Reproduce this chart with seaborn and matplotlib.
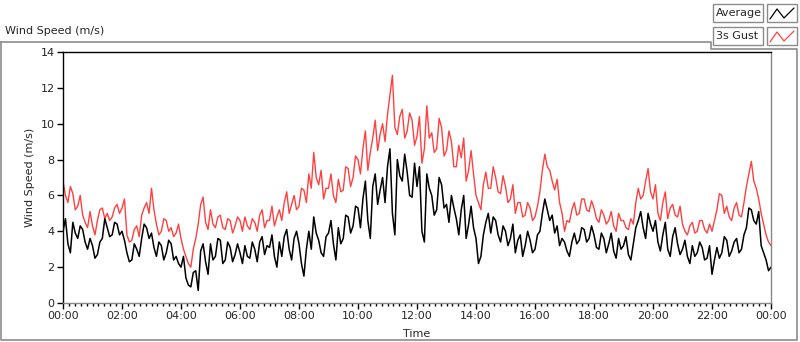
import numpy as np
import pandas as pd
import seaborn as sns
import matplotlib.pyplot as plt
from matplotlib.lines import Line2D
from matplotlib.patches import Rectangle

# values, one every 5 minutes from 00:00 to 24:00
average = [4.0, 4.7, 3.3, 2.8, 4.5, 3.9, 3.6, 4.3, 4.1, 3.4, 3.0, 3.6,
           3.2, 2.5, 2.7, 3.4, 3.6, 4.7, 4.2, 3.7, 3.8, 4.5, 4.4, 3.8,
           4.0, 3.5, 2.8, 2.3, 2.4, 3.3, 3.0, 2.6, 3.6, 4.4, 4.2, 3.6,
           3.9, 3.1, 2.6, 3.4, 3.2, 2.4, 2.8, 3.5, 3.3, 2.4, 2.6, 2.2,
           2.0, 2.6, 1.4, 1.0, 0.9, 1.7, 1.8, 0.7, 2.9, 3.3, 2.3, 1.6,
           3.3, 2.4, 2.6, 3.6, 3.5, 2.2, 2.4, 3.4, 3.1, 2.3, 2.7, 3.3,
           2.8, 2.2, 3.2, 2.6, 2.5, 3.4, 3.0, 2.3, 3.4, 3.7, 2.7, 3.2,
           3.1, 3.8, 2.6, 2.0, 3.4, 2.6, 3.7, 4.1, 3.0, 2.4, 3.6, 4.0,
           3.3, 2.2, 1.5, 3.0, 4.0, 3.0, 4.8, 3.9, 3.5, 2.8, 2.6, 3.7,
           3.9, 4.6, 3.3, 2.4, 4.2, 3.3, 3.6, 4.9, 4.8, 3.9, 4.3, 5.4,
           5.3, 4.2, 5.8, 6.8, 4.6, 3.6, 6.5, 7.2, 5.5, 6.3, 7.0, 5.6,
           7.6, 8.6, 5.0, 3.8, 8.0, 7.1, 6.8, 8.3, 7.3, 6.0, 5.9, 7.8,
           6.5, 7.6, 4.0, 3.4, 7.2, 6.4, 6.0, 4.9, 5.2, 7.0, 6.6, 5.3,
           5.5, 4.5, 6.0, 5.3, 4.7, 3.8, 5.2, 6.0, 3.6, 4.4, 5.4, 4.2,
           3.6, 2.2, 2.6, 3.8, 4.5, 5.0, 3.9, 4.8, 4.6, 3.8, 3.4, 4.3,
           4.0, 3.2, 3.6, 4.4, 2.8, 3.5, 3.8, 2.6, 3.2, 4.0, 3.5, 2.8,
           3.0, 3.8, 4.0, 5.0, 5.8, 5.2, 4.6, 4.9, 3.9, 4.3, 3.2, 3.6,
           3.4, 2.9, 2.6, 3.4, 3.9, 3.3, 3.5, 4.2, 4.1, 3.4, 3.6, 4.3,
           3.8, 3.1, 3.0, 3.9, 3.6, 2.8, 3.3, 3.9, 2.9, 2.5, 3.6, 3.0,
           3.2, 3.7, 2.7, 2.4, 3.3, 4.2, 4.6, 5.1, 4.2, 3.6, 5.0, 4.4,
           4.0, 4.6, 3.4, 2.9, 3.8, 4.5, 3.0, 2.6, 3.7, 4.2, 3.3, 2.7,
           3.0, 3.5, 2.6, 2.2, 3.2, 2.6, 2.8, 3.4, 3.1, 2.4, 2.5, 3.2,
           1.6, 2.4, 3.1, 2.5, 2.8, 3.7, 3.5, 2.6, 2.9, 3.4, 3.6, 2.8,
           3.0, 3.8, 4.2, 5.3, 5.2, 4.6, 4.4, 5.1, 3.2, 2.8, 2.4, 1.8,
           2.0]
gust = [6.8, 6.0, 5.6, 6.5, 6.1, 5.2, 5.4, 6.0, 4.9, 4.5, 4.2, 5.1,
        4.3, 3.8, 4.6, 5.2, 5.3, 4.7, 5.0, 4.6, 4.8, 5.3, 5.5, 5.0,
        5.3, 5.8, 3.8, 3.4, 3.5, 4.1, 4.3, 3.7, 4.9, 5.3, 5.6, 5.0,
        6.4, 5.2, 4.4, 3.8, 4.0, 4.7, 4.6, 4.0, 4.2, 3.7, 3.9, 4.4,
        3.6, 3.0, 2.6, 2.2, 2.0, 3.0, 3.6, 4.4, 5.5, 5.9, 4.5, 4.1,
        5.2, 4.4, 4.2, 4.8, 4.9, 4.2, 4.1, 4.7, 4.6, 3.9, 4.3, 4.8,
        4.6, 4.0, 4.8, 4.3, 4.1, 4.7, 4.5, 4.0, 4.9, 5.2, 4.2, 4.6,
        4.6, 5.4, 4.3, 4.8, 5.2, 4.6, 5.6, 6.2, 5.0, 5.5, 6.0, 5.2,
        5.4, 6.4, 6.3, 5.6, 7.2, 6.4, 8.4, 7.0, 6.6, 7.4, 5.8, 6.4,
        6.4, 7.2, 6.0, 5.6, 6.9, 6.2, 6.3, 7.6, 7.5, 6.5, 7.0, 8.2,
        8.0, 7.2, 8.6, 9.6, 7.4, 8.4, 9.2, 10.2, 8.5, 9.4, 10.0, 9.0,
        10.5, 11.6, 12.7, 9.8, 9.4, 10.4, 10.8, 9.2, 9.6, 10.6, 10.2, 8.8,
        9.3, 10.4, 7.8, 8.6, 11.0, 9.2, 9.5, 8.4, 8.6, 10.3, 9.8, 8.2,
        8.5, 9.6, 9.0, 7.6, 7.6, 8.8, 8.1, 9.2, 6.8, 7.4, 8.5, 7.2,
        6.0, 5.6, 5.2, 6.6, 7.3, 6.4, 6.4, 7.6, 7.0, 6.2, 6.1, 7.1,
        6.5, 5.6, 5.8, 6.6, 5.0, 5.6, 5.6, 4.8, 4.9, 5.6, 5.3, 4.6,
        4.8, 5.4, 6.2, 7.4, 8.3, 7.6, 7.4, 6.8, 6.3, 6.9, 5.6, 5.0,
        4.0, 4.6, 4.5, 5.2, 5.6, 4.9, 5.0, 5.8, 5.8, 5.2, 5.1, 5.7,
        5.3, 4.7, 4.5, 5.2, 4.9, 4.4, 4.6, 5.1, 4.3, 4.0, 5.0, 4.6,
        4.6, 4.2, 4.1, 4.7, 4.4, 5.6, 6.4, 5.8, 6.0, 6.8, 7.5, 6.2,
        5.8, 6.6, 5.0, 4.6, 5.6, 6.2, 4.7, 5.3, 5.5, 4.9, 4.8, 5.4,
        4.4, 4.0, 3.8, 4.3, 4.5, 3.9, 4.0, 4.6, 4.6, 4.1, 3.9, 4.4,
        4.0, 4.6, 5.2, 6.1, 6.0, 5.0, 5.4, 4.8, 4.6, 5.3, 5.6, 4.9,
        4.8, 5.6, 6.5, 7.2, 7.9, 6.8, 6.4, 5.8, 5.0, 4.4, 3.8, 3.4,
        3.2]
hours = np.arange(len(average)) / 12.0
tick_hours = list(range(0, 25, 2))
tick_labels = ["00:00", "02:00", "04:00", "06:00", "08:00", "10:00", "12:00",
               "14:00", "16:00", "18:00", "20:00", "22:00", "00:00"]

df = pd.DataFrame({"hour": hours, "Average": average, "3s Gust": gust})

sns.set_style("white")
plt.rcParams["font.family"] = ["DejaVu Sans"]

fig = plt.figure(figsize=(8, 3.42), dpi=100)
ax = fig.add_axes([63/800, 39/342, 708/800, 251/342])

sns.lineplot(data=df, x="hour", y="3s Gust", color="#ff4040", linewidth=1.0, ax=ax)
sns.lineplot(data=df, x="hour", y="Average", color="black", linewidth=1.1, ax=ax)

ax.set_xlim(0, 24)
ax.set_ylim(0, 14)
ax.set_xticks(tick_hours)
ax.set_xticklabels(tick_labels)
ax.set_xticks(np.arange(0, 24.01, 0.2), minor=True)
ax.set_yticks(range(0, 15, 2))
ax.tick_params(axis="both", which="major", direction="out", length=4, width=1,
               labelsize=8, pad=2, bottom=True, left=True, color="black")
ax.tick_params(axis="x", which="minor", direction="out", length=2, width=1,
               bottom=True, color="black")
ax.set_xlabel("Time", fontsize=8, labelpad=1)
ax.set_ylabel("Wind Speed (m/s)", fontsize=8, labelpad=4)
ax.xaxis.set_label_coords(0.5, -0.105)

ax.spines["left"].set_color("black")
ax.spines["top"].set_color("black")
ax.spines["right"].set_color("#888888")
ax.spines["bottom"].set_color("#888888")
for s in ax.spines.values():
    s.set_linewidth(1)

# outer panel frame and title
W, H = 800, 342
fx = lambda x: x / W
fy = lambda y: 1 - y / H
frame = [(1, 42), (711, 42), (711, 49), (797, 49), (797, 340), (1, 340), (1, 42)]
fig.add_artist(Line2D([fx(p[0]) for p in frame], [fy(p[1]) for p in frame],
                      color="#8c8c8c", linewidth=1.2, transform=fig.transFigure))
fig.text(fx(5), fy(31), "Wind Speed (m/s)", fontsize=8, va="center", ha="left")

# legend boxes
for i, (name, col) in enumerate([("Average", "black"), ("3s Gust", "#ff4040")]):
    y0 = 4 + i * 23
    fig.add_artist(Rectangle((fx(713), fy(y0 + 18)), 50 / W, 18 / H, fill=False,
                             edgecolor="#8c8c8c", linewidth=1, transform=fig.transFigure))
    fig.text(fx(716), fy(y0 + 9), name, fontsize=8, va="center", ha="left")
    fig.add_artist(Rectangle((fx(767), fy(y0 + 18)), 30 / W, 18 / H, fill=False,
                             edgecolor="#8c8c8c", linewidth=1, transform=fig.transFigure))
    zx = [770, 777, 784, 794]
    zy = [y0 + 15, y0 + 5, y0 + 14, y0 + 4]
    fig.add_artist(Line2D([fx(v) for v in zx], [fy(v) for v in zy], color=col,
                          linewidth=0.9, transform=fig.transFigure))

fig.savefig("out.png", dpi=100)
